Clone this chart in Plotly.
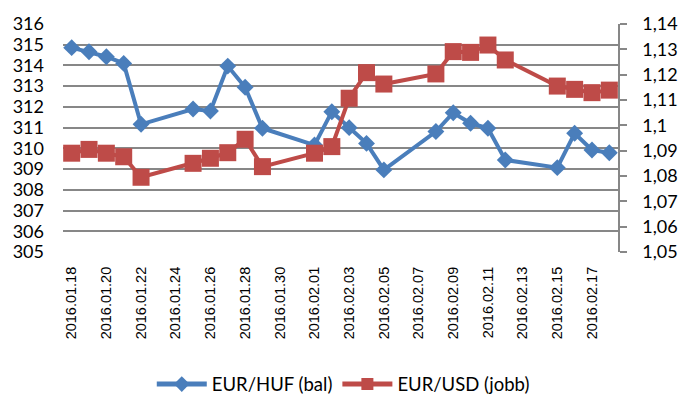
import plotly.graph_objects as go

dates = ["2016-01-18", "2016-01-19", "2016-01-20", "2016-01-21", "2016-01-22",
         "2016-01-25", "2016-01-26", "2016-01-27", "2016-01-28", "2016-01-29",
         "2016-02-01", "2016-02-02", "2016-02-03", "2016-02-04", "2016-02-05",
         "2016-02-08", "2016-02-09", "2016-02-10", "2016-02-11", "2016-02-12",
         "2016-02-15", "2016-02-16", "2016-02-17", "2016-02-18"]

eur_huf = [314.86, 314.66, 314.42, 314.10, 311.16,
           311.90, 311.80, 313.97, 312.95, 310.97,
           310.16, 311.77, 311.00, 310.24, 308.96,
           310.81, 311.72, 311.21, 310.97, 309.44,
           309.07, 310.73, 309.92, 309.79]

eur_usd = [1.0890, 1.0905, 1.0890, 1.0876, 1.0795,
           1.0850, 1.0870, 1.0892, 1.0945, 1.0837,
           1.0890, 1.0916, 1.1107, 1.1208, 1.1163,
           1.1203, 1.1291, 1.1288, 1.1317, 1.1258,
           1.1155, 1.1142, 1.1129, 1.1139]

x_tick_vals = ["2016-01-18", "2016-01-20", "2016-01-22", "2016-01-24", "2016-01-26",
               "2016-01-28", "2016-01-30", "2016-02-01", "2016-02-03", "2016-02-05",
               "2016-02-07", "2016-02-09", "2016-02-11", "2016-02-13", "2016-02-15",
               "2016-02-17"]
x_tick_text = [d.replace("-", ".") for d in x_tick_vals]

left_ticks = list(range(305, 317))
right_ticks = [1.05, 1.06, 1.07, 1.08, 1.09, 1.10, 1.11, 1.12, 1.13, 1.14]
right_tick_text = ["1,05", "1,06", "1,07", "1,08", "1,09", "1,1", "1,11", "1,12", "1,13", "1,14"]

BLUE = "#4A7EBB"
RED = "#BE4B48"
GRID = "#878787"

fig = go.Figure()
fig.add_trace(go.Scatter(
    x=dates, y=eur_huf, name="EUR/HUF (bal)", mode="lines+markers",
    line=dict(color=BLUE, width=4),
    marker=dict(symbol="diamond", size=13, color=BLUE),
    yaxis="y"))
fig.add_trace(go.Scatter(
    x=dates, y=eur_usd, name="EUR/USD (jobb)", mode="lines+markers",
    line=dict(color=RED, width=4),
    marker=dict(symbol="square", size=17, color=RED),
    yaxis="y2"))

fig.update_layout(
    width=678, height=410,
    margin=dict(l=63, r=60, t=24, b=158, autoexpand=False),
    paper_bgcolor="white", plot_bgcolor="white",
    font=dict(family="Lato", size=18, color="#000000"),
    showlegend=True,
    legend=dict(orientation="h", x=0.505, xanchor="center", y=0.062, yanchor="middle",
                yref="container", font=dict(family="Lato", size=18.5),
                itemwidth=50, tracegroupgap=0, itemsizing="constant"),
    xaxis=dict(
        type="date", automargin=False,
        range=["2016-01-17 12:00", "2016-02-18 12:00"],
        tickmode="array", tickvals=x_tick_vals, ticktext=x_tick_text,
        tickangle=-90, ticks="outside", ticklen=8, tickcolor="rgba(0,0,0,0)",
        tickfont=dict(family="Liberation Sans", size=14.5),
        showgrid=False, zeroline=False, showline=False),
    yaxis=dict(
        range=[305, 316], tickmode="array", tickvals=left_ticks, automargin=False,
        showgrid=True, gridcolor=GRID, gridwidth=1.5,
        zeroline=False, showline=False, ticks="",
        ticklabelstandoff=18,
        tickfont=dict(family="Lato", size=18)),
    yaxis2=dict(
        range=[1.05, 1.14], overlaying="y", side="right", automargin=False,
        tickmode="array", tickvals=right_ticks, ticktext=right_tick_text,
        showgrid=False, zeroline=False,
        showline=True, linecolor=GRID, linewidth=1.5,
        ticks="outside", ticklen=7, tickcolor=GRID, tickwidth=1.5,
        ticklabelstandoff=12,
        tickfont=dict(family="Lato", size=18)),
)

fig.write_html("out.html", config={"displayModeBar": False},
               post_script="document.body.style.margin='0';")
